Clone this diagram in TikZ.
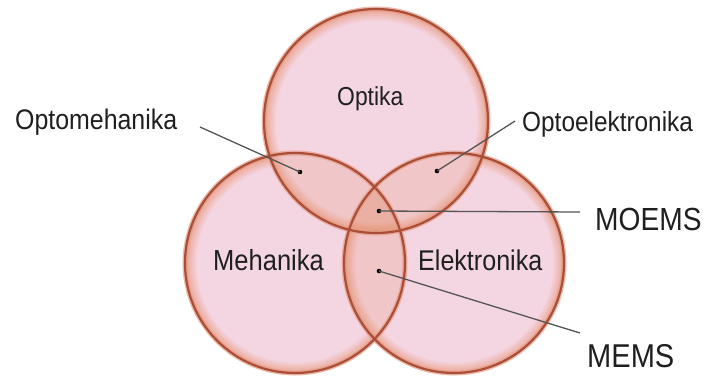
\documentclass[tikz,border=0pt]{standalone}
\usepackage{fontspec}
\setmainfont{Liberation Sans}
\newfontfamily\lblfont[FakeStretch=0.88]{Liberation Sans}
\definecolor{pinkc}{RGB}{244,214,226}
\definecolor{rimc}{RGB}{234,164,144}
\definecolor{lensc}{RGB}{226,138,100}
\definecolor{edgec}{RGB}{170,78,56}
\definecolor{glowc}{RGB}{230,156,134}
\definecolor{leadc}{RGB}{85,85,85}
\pgfdeclareradialshading{rimshade}{\pgfpoint{0bp}{0bp}}{color(0bp)=(pinkc); color(22.3bp)=(pinkc); color(25bp)=(rimc); color(50bp)=(rimc)}
\tikzset{
  dotmark/.style={circle,fill=black,inner sep=0pt,minimum size=4.6pt},
  leadline/.style={draw=leadc,line width=1.3pt},
  lbl/.style={inner sep=0pt,anchor=base west,text=black!88,font=\lblfont\fontsize{#1}{#1}\selectfont},
  lensfill/.style={fill=lensc,fill opacity=0.2},
  rimglow/.style={draw=glowc,line width=5pt,opacity=0.7},
  rimline/.style={draw=edgec,line width=2.2pt}
}
\begin{document}
\begin{tikzpicture}[x=1pt,y=-1pt]
\useasboundingbox (0,0) rectangle (706,376);
\fill[white] (0,0) rectangle (706,376);
\coordinate (cT) at (376,121);
\coordinate (cL) at (295,263);
\coordinate (cR) at (454,263);
% circles
\shade[shading=rimshade] (cL) circle[radius=110pt];
\shade[shading=rimshade] (cR) circle[radius=110pt];
\shade[shading=rimshade] (cT) circle[radius=112pt];
% overlaps
\begin{scope}
  \clip (cT) circle[radius=112pt];
  \fill[lensfill] (cL) circle[radius=110pt];
  \fill[lensfill] (cR) circle[radius=110pt];
\end{scope}
\begin{scope}
  \clip (cL) circle[radius=110pt];
  \fill[lensfill] (cR) circle[radius=110pt];
\end{scope}
% rims
\draw[rimglow] (cL) circle[radius=110pt];
\draw[rimglow] (cR) circle[radius=110pt];
\draw[rimglow] (cT) circle[radius=112pt];
\draw[rimline] (cL) circle[radius=110pt];
\draw[rimline] (cR) circle[radius=110pt];
\draw[rimline] (cT) circle[radius=112pt];
% circle labels
\node[lbl=26] (optika) at (337,105) {Optika};
\node[lbl=29] (meh) at (213,270) {Mehanika};
\node[lbl=28.5] (elek) at (418,270) {Elektronika};
% outside labels
\node[lbl=28.3] (optomeh) at (15,129) {Optomehanika};
\node[lbl=27.7] (optoel) at (522,131) {Optoelektronika};
\node[lbl=32] (moems) at (595,230) {MOEMS};
\node[lbl=33] (mems) at (587,367) {MEMS};
% dots
\node[dotmark] (dOM) at (300,172) {};
\node[dotmark] (dOE) at (437,171) {};
\node[dotmark] (dMO) at (379,211) {};
\node[dotmark] (dME) at (379,271) {};
% leader ends
\coordinate (aOM) at (200,127);
\coordinate (aOE) at (515,121);
\coordinate (aMO) at (580,212);
\coordinate (aME) at (580,333);
\draw[leadline] (aOM) -- (dOM.center);
\draw[leadline] (aOE) -- (dOE.center);
\draw[leadline] (aMO) -- (dMO.center);
\draw[leadline] (aME) -- (dME.center);
\end{tikzpicture}
\end{document}
